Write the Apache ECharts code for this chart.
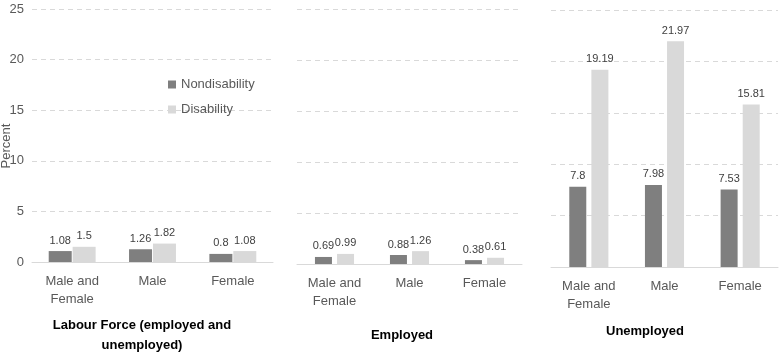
<!DOCTYPE html>
<html><head><meta charset="utf-8">
<script src="https://cdn.jsdelivr.net/npm/echarts@6/dist/echarts.min.js"></script>
<style>html,body{margin:0;padding:0;background:#fff}#c{width:779px;height:355px}</style>
</head><body><div id="c"></div>
<script>
const categories = ['Male and\nFemale', 'Male', 'Female'];
const panelTitles = ['Labour Force (employed and\nunemployed)', 'Employed', 'Unemployed'];
const nondisability = [[1.08, 1.26, 0.8], [0.69, 0.88, 0.38], [7.8, 7.98, 7.53]];
const disability = [[1.5, 1.82, 1.08], [0.99, 1.26, 0.61], [19.19, 21.97, 15.81]];
const yTicks = [0, 5, 10, 15, 20, 25];

const grids = [
  {left: 32, width: 241, top: 9, height: 253},
  {left: 297, width: 225, top: 9, height: 255},
  {left: 551, width: 227, top: 10, height: 257}
];
const barW = [23, 17, 17];
const gaps = ['4%', '30%', '30%'];
const titlePos = [[137, 310], [397, 320], [640, 316]];
const font = 'Liberation Sans, Arial, sans-serif';

const chart = echarts.init(document.getElementById('c'));
const xAxis = [], yAxis = [], series = [], title = [];
grids.forEach((g, i) => {
  xAxis.push({type: 'category', gridIndex: i, data: categories,
    axisLine: {lineStyle: {color: '#d9d9d9'}}, axisTick: {show: false},
    axisLabel: {color: '#595959', fontSize: 13, fontFamily: font, lineHeight: 18, margin: 10}});
  yAxis.push({type: 'value', gridIndex: i, min: yTicks[0], max: yTicks[yTicks.length - 1], interval: 5,
    axisLine: {show: false}, axisTick: {show: false},
    axisLabel: {show: i === 0, color: '#595959', fontSize: 13, fontFamily: font, margin: 8},
    splitLine: {lineStyle: {color: '#d9d9d9', type: [5, 4]}}});
  const lbl = {show: true, position: 'top', color: '#404040', fontSize: 11, fontFamily: font, distance: 5};
  series.push({name: 'Nondisability', type: 'bar', xAxisIndex: i, yAxisIndex: i,
    data: nondisability[i], barWidth: barW[i], barGap: gaps[i],
    itemStyle: {color: '#7f7f7f'}, label: lbl});
  series.push({name: 'Disability', type: 'bar', xAxisIndex: i, yAxisIndex: i,
    data: disability[i], barWidth: barW[i], barGap: gaps[i],
    itemStyle: {color: '#d9d9d9'}, label: lbl});
  title.push({text: panelTitles[i], left: titlePos[i][0], top: titlePos[i][1], textAlign: 'center',
    textStyle: {color: '#000', fontSize: 13, fontWeight: 'bold', fontFamily: font, lineHeight: 20}});
});

chart.setOption({
  animation: false,
  title: title,
  grid: grids,
  xAxis: xAxis,
  yAxis: yAxis,
  graphic: [{type: 'text', x: 0, y: 146, rotation: Math.PI / 2,
    style: {text: 'Percent', fill: '#595959', font: '13px ' + font, textAlign: 'center', textVerticalAlign: 'top'}}],
  legend: {data: ['Nondisability', 'Disability'], orient: 'vertical', left: 163, top: 73,
    itemWidth: 8, itemHeight: 8, itemGap: 12, icon: 'rect',
    textStyle: {color: '#595959', fontSize: 13, fontFamily: font}},
  series: series
});
</script></body></html>
